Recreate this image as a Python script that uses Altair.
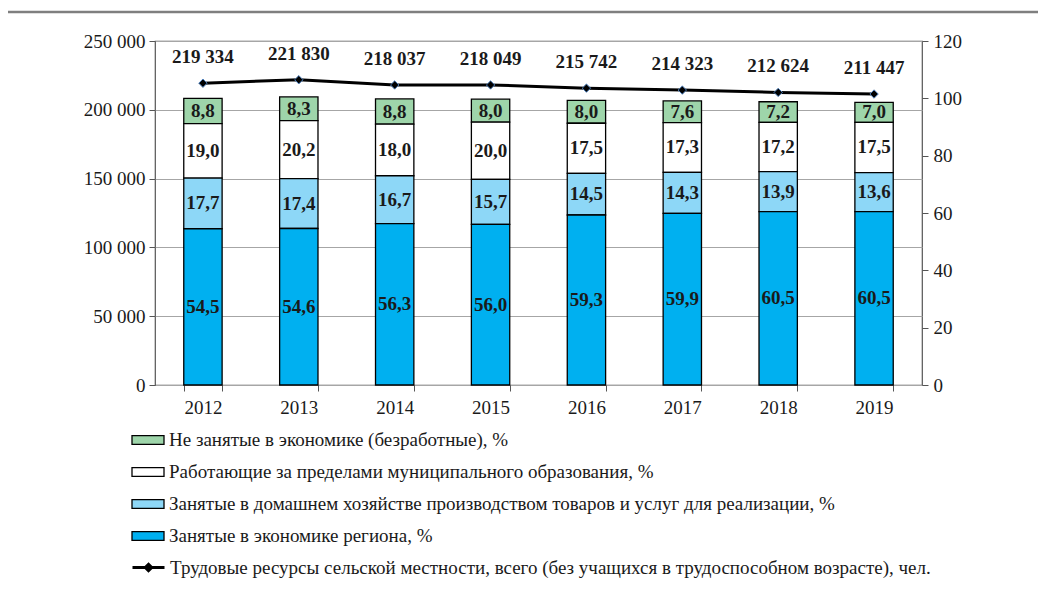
import altair as alt
import pandas as pd

years = ["2012", "2013", "2014", "2015", "2016", "2017", "2018", "2019"]
unemployed = [8.8, 8.3, 8.8, 8.0, 8.0, 7.6, 7.2, 7.0]
outside_mo = [19.0, 20.2, 18.0, 20.0, 17.5, 17.3, 17.2, 17.5]
household = [17.7, 17.4, 16.7, 15.7, 14.5, 14.3, 13.9, 13.6]
regional = [54.5, 54.6, 56.3, 56.0, 59.3, 59.9, 60.5, 60.5]
total = [219334, 221830, 218037, 218049, 215742, 214323, 212624, 211447]

series_names = [
    "Не занятые в экономике  (безработные), %",
    "Работающие за пределами муниципального  образования, %",
    "Занятые в домашнем хозяйстве производством товаров и услуг для реализации,  %",
    "Занятые в экономике  региона, %",
]
series_colors = ["#9ED5AA", "#FFFFFF", "#8DD7F7", "#00B0F0"]
stack_rank = [3, 2, 1, 0]
line_name = "Трудовые ресурсы сельской местности, всего (без учащихся в трудоспособном возрасте), чел."

series_values = [unemployed, outside_mo, household, regional]
rows = []
for name, vals, rank in zip(series_names, series_values, stack_rank):
    for y, v in zip(years, vals):
        rows.append({"year": y, "series": name, "value": v, "ord": rank})
df_bars = pd.DataFrame(rows)
df_line = pd.DataFrame({"year": years, "total": total, "name": [line_name] * len(years)})

FONT = "Liberation Serif, Times New Roman, DejaVu Serif, serif"
TXT = "#1a1a1a"
AX_FS = 19
LEG_FS = 19
LAB_FS = 19

xscale = alt.Scale(domain=years, paddingInner=0.6, paddingOuter=0.3)
xaxis = alt.Axis(title=None, labelFont=FONT, labelFontSize=AX_FS, labelColor=TXT, labelAngle=0,
                 tickBand="extent", tickSize=6, tickColor="#555", domain=False, labelPadding=7,
                 grid=False)

rect_path = "M-1,-0.27H1V0.27H-1Z"
line_path = "M-1,0H1M0,-0.2L0.2,0L0,0.2L-0.2,0Z"

base_bars = alt.Chart(df_bars).transform_stack(
    stack="value", groupby=["year"], sort=[alt.SortField("ord", order="ascending")], as_=["y0", "y1"]
).transform_calculate(
    mid="(datum.y0 + datum.y1) / 2",
    lab="replace(format(datum.value, '.1f'), '.', ',')",
)

yright = alt.Scale(domain=[0, 120])
bars = base_bars.mark_bar(stroke="black", strokeWidth=1.3).encode(
    x=alt.X("year:N", scale=xscale, axis=xaxis),
    y=alt.Y("y0:Q", scale=yright, axis=alt.Axis(
        orient="right", title=None, values=[0, 20, 40, 60, 80, 100, 120], grid=False,
        labelFont=FONT, labelFontSize=AX_FS, labelColor=TXT, tickColor="#555", tickSize=6,
        domain=False, labelPadding=5)),
    y2="y1:Q",
    fill=alt.Fill("series:N", scale=alt.Scale(domain=series_names, range=series_colors),
                  legend=alt.Legend(title=None, orient="none", legendX=-24, legendY=382,
                                    symbolType=rect_path, symbolSize=1024, symbolStrokeColor="black",
                                    symbolStrokeWidth=1.3, symbolOpacity=1, labelFont=FONT,
                                    labelFontSize=LEG_FS, labelColor=TXT, labelLimit=1200, rowPadding=5,
                                    labelOffset=4, padding=0, direction="vertical")),
)
bar_text = base_bars.mark_text(font=FONT, fontWeight="bold", fontSize=LAB_FS, color=TXT,
                               baseline="middle").encode(
    x=alt.X("year:N", scale=xscale, axis=xaxis),
    y=alt.Y("mid:Q", scale=yright),
    text="lab:N",
)

yleft = alt.Scale(domain=[0, 250000])
line = alt.Chart(df_line).mark_line(strokeWidth=3).encode(
    x=alt.X("year:N", scale=xscale, axis=xaxis),
    y=alt.Y("total:Q", scale=yleft, axis=alt.Axis(
        orient="left", title=None, values=[0, 50000, 100000, 150000, 200000, 250000], grid=True,
        gridColor="#a6a6a6", gridWidth=1, labelFont=FONT, labelFontSize=AX_FS, labelColor=TXT,
        tickColor="#555", tickSize=6, domain=False, labelPadding=4,
        labelExpr="replace(format(datum.value, ','), ',', ' ')")),
    stroke=alt.Stroke("name:N", scale=alt.Scale(domain=[line_name], range=["black"]),
                      legend=alt.Legend(title=None, orient="none", legendX=-24, legendY=509,
                                        symbolType=line_path, symbolSize=1024, symbolFillColor="black",
                                        symbolStrokeWidth=3, labelFont=FONT, labelFontSize=LEG_FS,
                                        labelColor=TXT, labelLimit=1200, labelOffset=4, padding=0)),
)
points = alt.Chart(df_line).mark_point(shape="diamond", filled=True, fill="black", stroke="#4F81BD",
                                       strokeWidth=1, size=70, opacity=1).encode(
    x=alt.X("year:N", scale=xscale, axis=xaxis),
    y=alt.Y("total:Q", scale=yleft),
)
line_text = alt.Chart(df_line).transform_calculate(
    lab="replace(format(datum.total, ','), ',', ' ')"
).mark_text(font=FONT, fontWeight="bold", fontSize=LAB_FS, color=TXT, dy=-26).encode(
    x=alt.X("year:N", scale=xscale, axis=xaxis),
    y=alt.Y("total:Q", scale=yleft),
    text="lab:N",
)

frame = alt.Chart(pd.DataFrame({"k": [0]})).mark_rect(fill=None, stroke="#7f7f7f", strokeWidth=2.5).encode(
    x=alt.value(-151), x2=alt.value(3000), y=alt.value(-29), y2=alt.value(3000)
)

chart = alt.layer(
    alt.layer(line, points, line_text),
    alt.layer(bars, bar_text),
    frame,
).resolve_scale(y="independent").properties(
    width=767, height=344,
    autosize=alt.AutoSizeParams(type="none"),
    padding={"left": 147, "top": 33, "right": 116, "bottom": 200},
).configure(font=FONT).configure_legend(labelFont=FONT).configure_view(stroke="#555", strokeWidth=1.2)

chart.save("out.html", embed_options={"renderer": "svg", "actions": False})
